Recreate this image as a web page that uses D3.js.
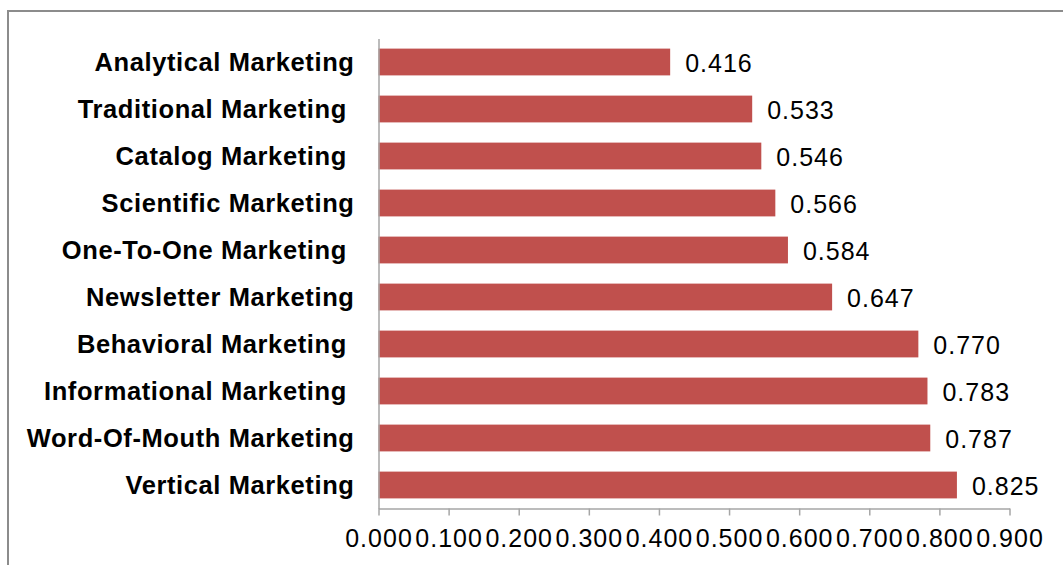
<!DOCTYPE html>
<html>
<head>
<meta charset="utf-8">
<script src="https://cdn.jsdelivr.net/npm/d3@7"></script>
<style>
  html, body { margin: 0; padding: 0; background: #fff; }
  svg { display: block; }
  text { font-family: "Liberation Sans", Arial, sans-serif; fill: #000; }
</style>
</head>
<body>
<svg id="chart" width="1063" height="565"></svg>
<script>
const categories = [
  "Analytical Marketing",
  "Traditional Marketing ",
  "Catalog Marketing ",
  "Scientific Marketing",
  "One-To-One Marketing ",
  "Newsletter Marketing",
  "Behavioral Marketing ",
  "Informational Marketing ",
  "Word-Of-Mouth Marketing",
  "Vertical Marketing"
];
const values = [0.416, 0.533, 0.546, 0.566, 0.584, 0.647, 0.770, 0.783, 0.787, 0.825];
const tickValues = [0, 0.1, 0.2, 0.3, 0.4, 0.5, 0.6, 0.7, 0.8, 0.9];

const svg = d3.select("#chart");

// outer frame
svg.append("rect")
  .attr("x", 8).attr("y", 11)
  .attr("width", 1070).attr("height", 570)
  .attr("fill", "none")
  .attr("stroke", "#8c8c8c")
  .attr("stroke-width", 2);

const plotLeft = 378.5, plotRight = 1009.5, plotTop = 38.5, plotBottom = 508.5;

const x = d3.scaleLinear().domain([0, 0.9]).range([plotLeft, plotRight]);
const y = d3.scaleBand().domain(categories).range([plotTop, plotBottom]).paddingInner(0.43).paddingOuter(0.215);

// bars
svg.append("g").selectAll("rect")
  .data(values)
  .join("rect")
  .attr("x", x(0))
  .attr("y", (d, i) => y(categories[i]))
  .attr("width", d => x(d) - x(0))
  .attr("height", y.bandwidth())
  .attr("fill", "#C0504D");

// value labels
svg.append("g").selectAll("text")
  .data(values)
  .join("text")
  .attr("x", d => x(d) + 15)
  .attr("y", (d, i) => y(categories[i]) + y.bandwidth() / 2)
  .attr("dy", "0.38em")
  .style("font-size", "25px")
  .style("letter-spacing", "1px")
  .text(d => d3.format(".3f")(d));

// x axis
const xAxis = d3.axisBottom(x)
  .tickValues(tickValues)
  .tickFormat(d3.format(".3f"))
  .tickSize(7)
  .tickSizeOuter(0);
const gx = svg.append("g").attr("transform", `translate(0,${plotBottom})`).call(xAxis);
gx.select(".domain").attr("stroke", "#a6a6a6").attr("stroke-width", 1.5);
gx.selectAll(".tick line").attr("stroke", "#a6a6a6").attr("stroke-width", 1.5);
gx.selectAll(".tick text")
  .attr("y", 21)
  .attr("dy", "0.71em")
  .style("font-size", "25px")
  .style("letter-spacing", "1px")
  .style("font-family", "'Liberation Sans', Arial, sans-serif")
  .attr("fill", "#000");

// y axis
const yAxis = d3.axisLeft(y).tickSize(0).tickSizeOuter(0).tickPadding(24);
const gy = svg.append("g").attr("transform", `translate(${plotLeft},0)`).call(yAxis);
gy.select(".domain").attr("stroke", "#a6a6a6").attr("stroke-width", 1.5);
gy.selectAll(".tick text")
  .attr("dy", "0.36em")
  .style("font-size", "25.5px")
  .style("font-weight", "bold")
  .style("letter-spacing", "0.6px")
  .style("white-space", "pre")
  .style("font-family", "'Liberation Sans', Arial, sans-serif")
  .attr("fill", "#000");
</script>
</body>
</html>
